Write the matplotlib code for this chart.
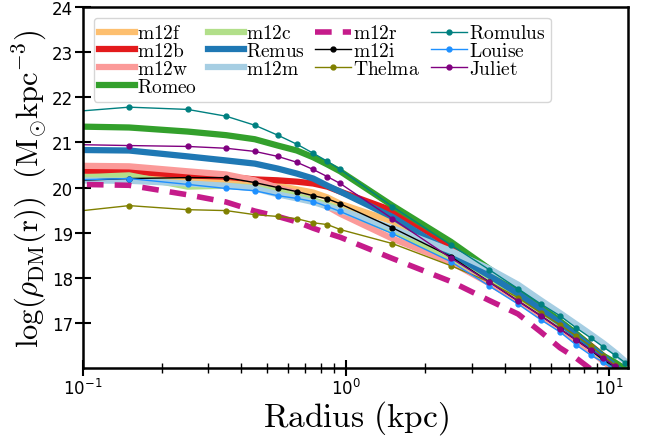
import numpy as np
import matplotlib
matplotlib.use('Agg')
import matplotlib.pyplot as plt
from matplotlib.font_manager import FontProperties

# radii (kpc)
r = [0.05, 0.15, 0.25, 0.35, 0.45, 0.55, 0.65, 0.75, 0.85, 0.95,
     1.5, 2.5, 3.5, 4.5, 5.5, 6.5, 7.5, 8.5, 9.5, 10.5, 11.5]

# log density
m12f = [20.25, 20.23, 20.18, 20.13, 20.07, 20.04, 19.96, 19.89, 19.78, 19.64,
        19.25, 18.6, 18.05, 17.65, 17.3, 17.0, 16.72, 16.47, 16.24, 16.05, 15.87]
m12b = [20.4, 20.36, 20.27, 20.24, 20.18, 20.16, 20.13, 20.09, 20.02, 19.91,
        19.49, 18.71, 18.1, 17.7, 17.35, 17.02, 16.75, 16.5, 16.27, 16.07, 15.88]
m12w = [20.5, 20.47, 20.36, 20.29, 20.16, 20.0, 19.88, 19.72, 19.58, 19.42,
        18.87, 18.35, 17.88, 17.5, 17.15, 16.88, 16.6, 16.38, 16.15, 15.95, 15.78]
romeo = [21.38, 21.33, 21.24, 21.16, 21.07, 20.93, 20.82, 20.67, 20.51, 20.36,
         19.6, 18.8, 18.2, 17.76, 17.38, 17.04, 16.76, 16.49, 16.27, 16.13, 15.98]
m12c = [20.15, 20.27, 20.02, 20.04, 20.0, 19.92, 19.82, 19.72, 19.62, 19.52,
        19.04, 18.45, 17.98, 17.6, 17.27, 16.98, 16.7, 16.45, 16.23, 16.03, 15.85]
remus = [20.85, 20.82, 20.69, 20.6, 20.53, 20.42, 20.31, 20.2, 20.04, 19.91,
         19.35, 18.55, 18.05, 17.65, 17.3, 17.0, 16.72, 16.47, 16.25, 16.05, 15.87]
m12m = [20.17, 20.15, 20.09, 20.04, 19.98, 19.85, 19.76, 19.68, 19.58, 19.5,
        19.1, 18.6, 18.2, 17.85, 17.5, 17.22, 16.97, 16.75, 16.55, 16.35, 16.15]
m12r = [20.1, 20.05, 19.84, 19.68, 19.48, 19.36, 19.24, 19.1, 18.99, 18.9,
        18.43, 17.92, 17.5, 17.2, 16.8, 16.45, 16.22, 15.98, 15.75, 15.55, 15.35]
m12i = [20.1, 20.2, 20.22, 20.22, 20.11, 20.0, 19.91, 19.82, 19.75, 19.64,
        19.11, 18.47, 17.91, 17.49, 17.16, 16.87, 16.62, 16.4, 16.18, 16.04, 15.88]
thelma = [19.3, 19.6, 19.51, 19.49, 19.4, 19.36, 19.31, 19.22, 19.18, 19.07,
          18.76, 18.27, 17.91, 17.56, 17.22, 16.96, 16.71, 16.49, 16.27, 16.07, 15.9]
romulus = [21.56, 21.78, 21.73, 21.58, 21.38, 21.16, 20.96, 20.76, 20.58, 20.4,
           19.58, 18.73, 18.18, 17.76, 17.42, 17.16, 16.89, 16.67, 16.47, 16.29, 16.12]
louise = [20.13, 20.2, 20.07, 19.98, 19.93, 19.82, 19.76, 19.69, 19.58, 19.47,
          18.98, 18.36, 17.82, 17.42, 17.07, 16.8, 16.51, 16.29, 16.13, 15.95, 15.78]
juliet = [20.98, 20.93, 20.91, 20.87, 20.8, 20.69, 20.56, 20.4, 20.24, 20.09,
          19.31, 18.44, 17.91, 17.49, 17.16, 16.87, 16.62, 16.4, 16.22, 16.04, 15.88]

plt.rcParams['font.family'] = 'DejaVu Sans'
cm = dict(math_fontfamily='cm')

fig = plt.figure(figsize=(6.47, 4.39), dpi=100)
ax = fig.add_axes([0.128, 0.159, 0.843, 0.823])

# FIRE m12 halos - thick lines
ax.plot(r, m12f, color='#fdbf6f', lw=4.5, label=r'$\rm m12f$')
ax.plot(r, m12b, color='#e31a1c', lw=4.5, label=r'$\rm m12b$')
ax.plot(r, m12w, color='#fb9a99', lw=4.5, label=r'$\rm m12w$')
ax.plot(r, romeo, color='#33a02c', lw=4.5, label=r'$\rm Romeo$')
ax.plot(r, m12c, color='#b2df8a', lw=4.5, label=r'$\rm m12c$')
ax.plot(r, remus, color='#1f78b4', lw=4.5, label=r'$\rm Remus$')
ax.plot(r, m12m, color='#a6cee3', lw=4.5, label=r'$\rm m12m$')
ax.plot(r, m12r, color='#c51b8a', lw=4, ls=(0, (3, 2)), label=r'$\rm m12r$')

# thin lines with points
ax.plot(r, m12i, color='black', lw=1, marker='o', ms=3.5, label=r'$\rm m12i$')
ax.plot(r, thelma, color='#808000', lw=1, marker='o', ms=3.5, label=r'$\rm Thelma$')
ax.plot(r, romulus, color='#008080', lw=1, marker='o', ms=3.5, label=r'$\rm Romulus$')
ax.plot(r, louise, color='#1e90ff', lw=1, marker='o', ms=3.5, label=r'$\rm Louise$')
ax.plot(r, juliet, color='#800080', lw=1, marker='o', ms=3.5, label=r'$\rm Juliet$')

ax.set_xscale('log')
ax.set_xlim(0.1, 11.8)
ax.set_ylim(16, 24)
ax.set_yticks([17, 18, 19, 20, 21, 22, 23, 24])

ax.set_xlabel(r'$\rm Radius\ (kpc)$', fontsize=24, labelpad=0, **cm)
ax.set_ylabel(r'$\log(\rho_{\rm DM}(\rm r))\ \ (\rm M_{\odot}kpc^{-3})$', fontsize=22, labelpad=2, **cm)

for s in ax.spines.values():
    s.set_linewidth(1.8)
ax.tick_params(which='major', direction='inout', length=12, width=1.5, labelsize=12, pad=1)
ax.tick_params(which='minor', direction='inout', length=7, width=1)

ax.legend(ncol=4, loc='upper left', prop=FontProperties(size=14, math_fontfamily='cm'),
          handlelength=1.85, handletextpad=0.1, labelspacing=-0.06, columnspacing=0.55,
          borderaxespad=0.55, borderpad=0.3, framealpha=0.8)

fig.savefig('out.png', dpi=100)
